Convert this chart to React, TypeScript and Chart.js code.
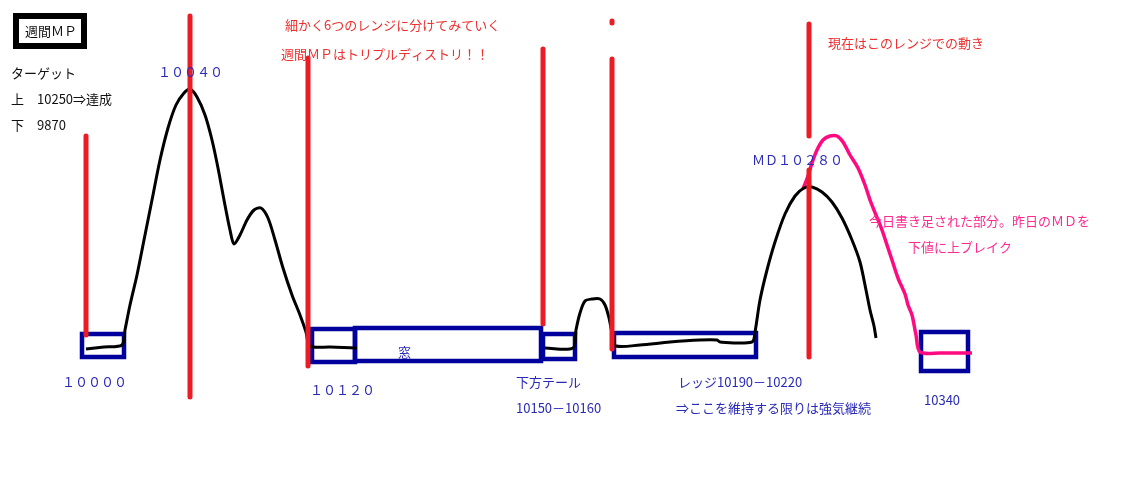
import React, { useEffect, useRef } from "react";
import { Chart, registerables } from "chart.js";

Chart.register(...registerables);

// Canvas-space data units (x: 0..1137, y: 0..499, y downward)
const blackCurveA: number[][] = [
  [86, 349], [104, 347], [122, 345], [125, 330], [130, 305], [137, 275], [145, 235], [152, 200],
  [160, 160], [168, 128], [176, 105], [184, 93], [190, 89], [197, 97], [205, 115], [212, 140],
  [218, 168], [224, 200], [230, 230], [234, 244], [240, 235], [247, 220], [254, 210], [261, 208],
  [268, 218], [275, 240], [283, 268], [292, 295], [300, 315], [306, 332], [310, 346],
  [330, 347], [357, 348],
];
const blackCurveB: number[][] = [
  [545, 348], [573, 348], [576, 330], [580, 313], [585, 301], [592, 299], [600, 299], [605, 305],
  [609, 318], [613, 338], [616, 346], [640, 345], [670, 342], [700, 340], [717, 340], [720, 342],
  [752, 342], [755, 332], [760, 300], [767, 270], [775, 242], [785, 214], [795, 196], [804, 188],
  [812, 187], [822, 192], [832, 202], [842, 218], [852, 240], [860, 262], [866, 290], [870, 310],
  [874, 326], [876, 338],
];
const pinkCurve: number[][] = [
  [803, 189], [808, 176], [812, 163], [817, 150], [823, 140], [830, 136], [837, 136], [843, 142],
  [850, 155], [858, 168], [865, 185], [870, 200], [876, 215], [882, 230], [887, 245], [892, 260],
  [898, 278], [905, 294], [908, 305], [912, 315], [916, 335], [920, 352], [940, 353], [972, 353],
];
const redLines: number[][][] = [
  [[86, 136], [86, 335]],
  [[190, 16], [190, 397]],
  [[308, 58], [308, 366]],
  [[543, 49], [543, 324]],
  [[612, 21], [612, 23]],
  [[612, 59], [612, 349]],
  [[809, 24], [809, 136]],
  [[809, 170], [809, 357]],
];
const blueBoxes: number[][] = [
  [82, 334, 124, 357],
  [312, 329, 355, 362],
  [355, 328, 541, 361],
  [543, 334, 575, 359],
  [614, 333, 756, 357],
  [921, 332, 968, 371],
];
const blackBox: number[] = [16, 16, 84, 46];

const blackTexts: [string, number, number][] = [
  ["週間ＭＰ", 25, 31],
  ["ターゲット", 11, 73],
  ["上　10250⇒達成", 11, 99],
  ["下　9870", 11, 125],
];
const blueTexts: [string, number, number][] = [
  ["１００４０", 158, 72],
  ["１００００", 62, 382],
  ["１０１２０", 310, 390],
  ["窓", 398, 352],
  ["下方テール", 516, 382],
  ["10150－10160", 516, 408],
  ["レッジ10190－10220", 678, 382],
  ["⇒ここを維持する限りは強気継続", 676, 408],
  ["10340", 924, 400],
  ["ＭＤ１０２８０", 752, 160],
];
const redTexts: [string, number, number][] = [
  ["細かく6つのレンジに分けてみていく", 285, 25],
  ["週間ＭＰはトリプルディストリ！！", 281, 54],
  ["現在はこのレンジでの動き", 828, 43],
];
const pinkTexts: [string, number, number][] = [
  ["今日書き足された部分。昨日のＭＤを", 869, 221],
  ["下値に上ブレイク", 908, 247],
];

const toPts = (arr: number[][]) => arr.map(([x, y]) => ({ x, y }));
const boxPts = (b: number[]) => [
  { x: b[0], y: b[1] }, { x: b[2], y: b[1] }, { x: b[2], y: b[3] }, { x: b[0], y: b[3] },
  { x: b[0], y: b[1] }, { x: b[2], y: b[1] },
];

const textPlugin = {
  id: "texts",
  afterDatasetsDraw(chart: any) {
    const { ctx, scales } = chart;
    const sx = scales.x, sy = scales.y;
    ctx.save();
    ctx.textBaseline = "middle";
    ctx.font = '13px "Noto Sans CJK JP", "Noto Sans", sans-serif';
    const draw = (list: [string, number, number][], color: string) => {
      ctx.fillStyle = color;
      list.forEach(([t, x, y]) => ctx.fillText(t, sx.getPixelForValue(x), sy.getPixelForValue(y)));
    };
    draw(blackTexts, "#111111");
    draw(blueTexts, "#2a2ab8");
    draw(redTexts, "#ee3030");
    draw(pinkTexts, "#ff2a90");
    ctx.restore();
  },
};

export default function App() {
  const ref = useRef<HTMLCanvasElement>(null);
  useEffect(() => {
    document.body.style.margin = "0";
    const datasets: any[] = [];
    redLines.forEach((l) =>
      datasets.push({ data: toPts(l), borderColor: "#ed1c24", borderWidth: 5, borderCapStyle: "round" })
    );
    datasets.push({ data: toPts(blackCurveA), borderColor: "#000", borderWidth: 3, tension: 0.3 });
    datasets.push({ data: toPts(blackCurveB), borderColor: "#000", borderWidth: 3, tension: 0.3 });
    datasets.push({ data: toPts(pinkCurve), borderColor: "#ff0a80", borderWidth: 3.5, tension: 0.3 });
    blueBoxes.forEach((b) =>
      datasets.push({ data: boxPts(b), borderColor: "#00009c", borderWidth: 4.5, tension: 0, borderJoinStyle: "miter" })
    );
    datasets.push({ data: boxPts(blackBox), borderColor: "#000", borderWidth: 6, tension: 0, borderJoinStyle: "miter" });
    datasets.forEach((d) => {
      d.pointRadius = 0;
      d.showLine = true;
      d.fill = false;
    });
    const chart = new Chart(ref.current!, {
      type: "scatter",
      data: { datasets },
      options: {
        animation: false,
        responsive: false,
        layout: { padding: 0 },
        plugins: { legend: { display: false }, tooltip: { enabled: false } },
        scales: {
          x: { type: "linear", min: 0, max: 1137, display: false },
          y: { type: "linear", min: 0, max: 499, reverse: true, display: false },
        },
      },
      plugins: [textPlugin],
    });
    return () => chart.destroy();
  }, []);
  return (
    <div style={{ position: "fixed", left: 0, top: 0, width: 1137, height: 499, background: "#fff" }}>
      <canvas ref={ref} width={1137} height={499} />
    </div>
  );
}
